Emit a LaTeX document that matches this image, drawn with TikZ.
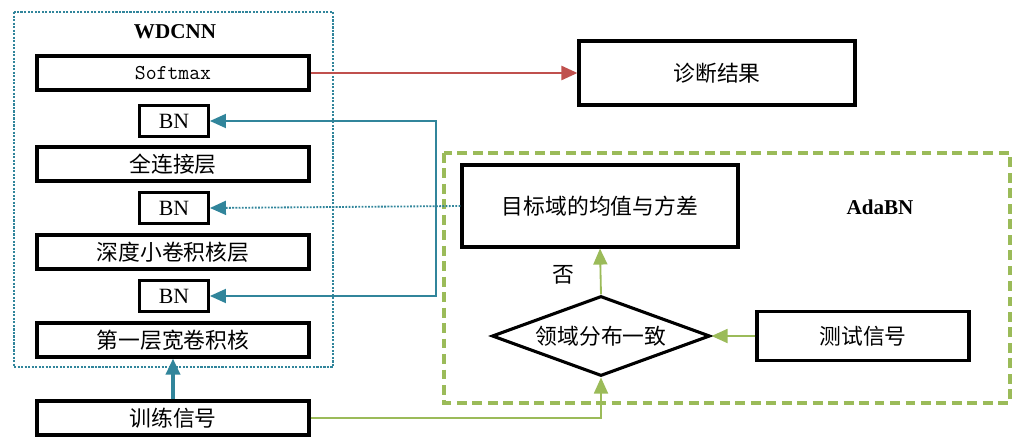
\documentclass[tikz,border=0pt]{standalone}
\usepackage{fontspec}
\setmainfont{Liberation Serif}
\newfontfamily\cjk{Noto Sans CJK SC}
\usetikzlibrary{arrows.meta, shapes.geometric, positioning}
\definecolor{tealc}{RGB}{49,133,155}
\definecolor{redc}{RGB}{192,80,77}
\definecolor{greenc}{RGB}{155,187,89}
\tikzset{box/.style = {
  rectangle,
  draw=black, line width=2.2pt,
  inner sep=0pt,
  text centered, align=center,
  font=\cjk\fontsize{15.5}{17}\selectfont
  }}
\tikzset{layer/.style = {
  % Rectangle:
  box,
  minimum width=6.8cm, minimum height=0.85cm
  }}
\tikzset{bn/.style = {
  % Rectangle:
  box,
  minimum width=1.72cm, minimum height=0.78cm,
  font=\fontsize{15.5}{17}\selectfont
  }}
\tikzset{arrow/.style = {
  -{Triangle[length=4mm,width=3.5mm]},
  line width=1.3pt,
  draw=#1
  }}
\tikzset{frame/.style = {
  draw=#1
  }}
\begin{document}
\begin{tikzpicture}[x=0.025cm, y=-0.025cm]
  \useasboundingbox (0,0) rectangle (1028,447);
  %
  % Frames
  %
  \draw [frame=tealc, line width=1.8pt, dash pattern=on 1.5pt off 1pt] (14,12) rectangle (333,367);
  \draw [frame=greenc, line width=3pt, dash pattern=on 7pt off 4pt] (444,153) rectangle (1010,403);
  \node (wdcnn) at (175,32) {\fontsize{15}{17}\selectfont\bfseries WDCNN};
  \node (adabn) at (880,207) {\fontsize{15}{17}\selectfont\bfseries AdaBN};
  %
  % Specification of nodes
  %
  \node (softmax) [layer] at (173,73) {\fontsize{15}{17}\selectfont\ttfamily Softmax};
  \node (bn1) [bn] at (174,121) {BN};
  \node (fc) [layer] at (173,164) {全连接层};
  \node (bn2) [bn] at (174,208) {BN};
  \node (deep) [layer] at (173,252) {深度小卷积核层};
  \node (bn3) [bn] at (174,296) {BN};
  \node (first) [layer] at (173,340) {第一层宽卷积核};
  \node (train) [layer] at (173,418) {训练信号};

  \node (result) [box, minimum width=6.9cm, minimum height=1.6cm] at (717,73) {诊断结果};
  \node (target) [box, minimum width=6.9cm, minimum height=2.05cm] at (600,206) {目标域的均值与方差};
  \node (same) [box, diamond, aspect=2.7, minimum width=5.45cm, minimum height=2cm] at (601,336) {领域分布一致};
  \node (test) [box, minimum width=5.3cm, minimum height=1.22cm] at (863,336) {测试信号};
  \node (no) [font=\cjk\fontsize{15.5}{17}\selectfont] at (563,275) {否};
  \coordinate (bus) at (436,208);
  \coordinate (corner) at (same.south |- train.east);
  %
  % Specification of lines
  %
  \draw [arrow=redc, line width=1.8pt] (softmax.east) -- (result.west);
  \draw [arrow=tealc, densely dotted] (target.west) -- (bn2.east);
  \draw [arrow=tealc] (bus) |- (bn1.east);
  \draw [arrow=tealc] (bus) |- (bn3.east);
  \draw [arrow=tealc, line width=2.5pt] (train.north) -- (first.south);
  \draw [arrow=greenc] (test.west) -- (same.east);
  \draw [arrow=greenc] (same.north) -- (target.south);
  \draw [arrow=greenc] (train.east) -- (corner) -- (same.south);
\end{tikzpicture}
\end{document}
